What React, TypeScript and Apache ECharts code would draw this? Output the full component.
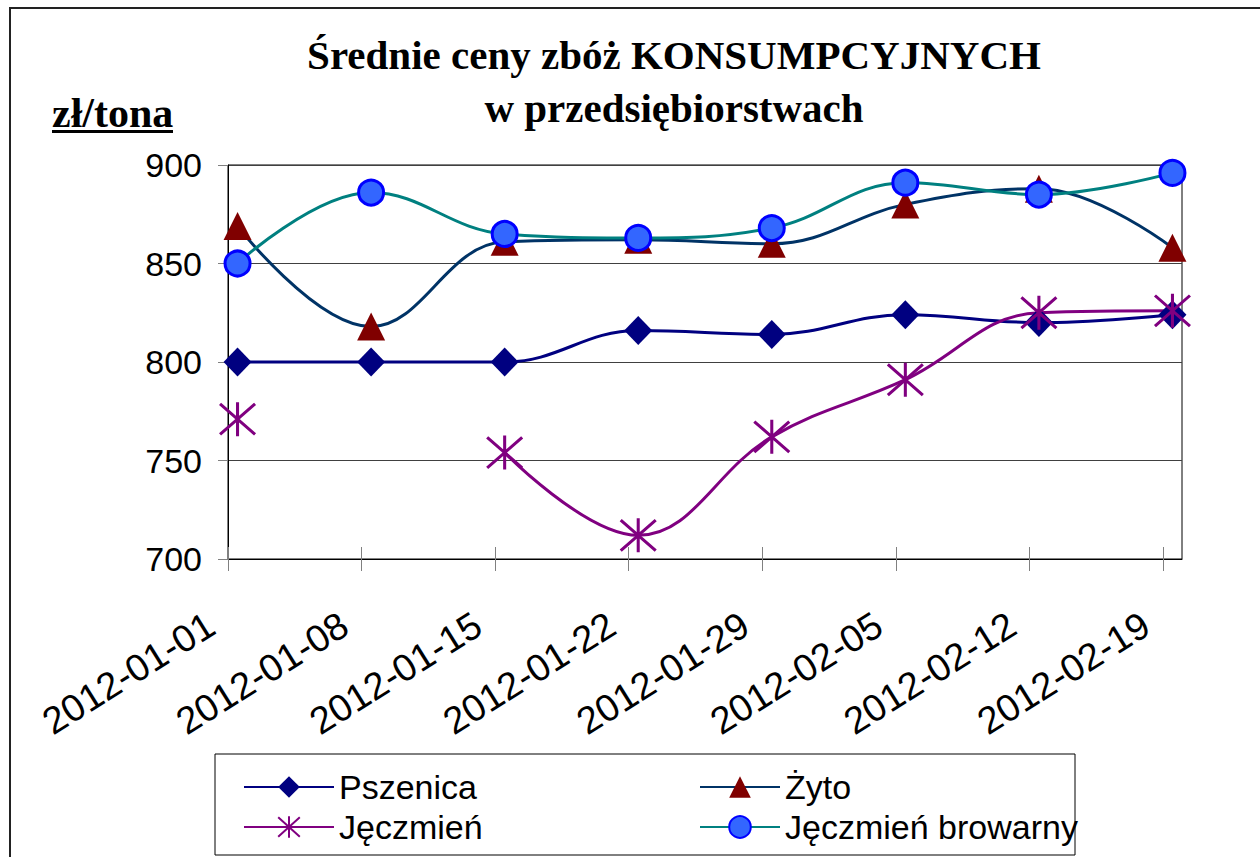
import React, { useEffect, useRef } from 'react';
import * as echarts from 'echarts';

// ---- data ----
const axisStartDate = '2012-01-01';
const axisEndDate = '2012-02-20';
const dates = ['2012-01-01', '2012-01-08', '2012-01-15', '2012-01-22', '2012-01-29', '2012-02-05', '2012-02-12', '2012-02-19'];
const tickDates = ['2012-01-01', '2012-01-08', '2012-01-15', '2012-01-22', '2012-01-29', '2012-02-05', '2012-02-12', '2012-02-19'];
const pszenica = [800, 800, 800, 816, 814, 824, 820, 824];
const zyto = [869, 818, 861, 862, 860, 880, 888, 858];
const jeczmien: (number | null)[] = [771, null, 754, 712, 762, 791, 825, 826];
const browarny = [850, 886, 865, 863, 868, 891, 885, 896];
const yTicks = [700, 750, 800, 850, 900];
const seriesNames = ['Pszenica', 'Żyto', 'Jęczmień', 'Jęczmień browarny'];
const titleText = 'Średnie ceny zbóż KONSUMPCYJNYCH\nw przedsiębiorstwach';
const unitText = 'zł/tona';

const DAY = 86400000;
const t0 = Date.parse(axisStartDate + 'T00:00:00Z');
const dayIndex = (d: string) => (Date.parse(d + 'T00:00:00Z') - t0) / DAY;
const fmtDay = (v: number) => new Date(t0 + Math.round(v) * DAY).toISOString().slice(0, 10);
// Excel date axis: each point sits in the middle of its day slot
const toPoints = (vals: (number | null)[]) =>
  dates.map((d, i) => [dayIndex(d) + 0.5, vals[i] == null ? '-' : vals[i]]);

const SANS = '"Liberation Sans", Arial, sans-serif';
const SERIF = '"Liberation Serif", "Times New Roman", serif';
const STAR = 'path://M50,0L50,100M0,5L100,95M0,95L100,5';

export default function App() {
  const ref = useRef<HTMLDivElement>(null);
  useEffect(() => {
    document.body.style.margin = '0';
    const chart = echarts.init(ref.current!, undefined, { renderer: 'svg' });
    const tickVals = tickDates.map(dayIndex);
    const xMax = dayIndex(axisEndDate);
    chart.setOption({
      animation: false,
      backgroundColor: '#fff',
      title: {
        text: titleText,
        left: 669,
        top: 23,
        textAlign: 'center',
        textStyle: { fontFamily: SERIF, fontWeight: 'bold', fontSize: 41, lineHeight: 53, color: '#000' },
      },
      grid: {
        left: 228,
        top: 165,
        right: 78,
        bottom: 298,
        show: true,
        borderColor: '#000',
        borderWidth: 1,
        backgroundColor: 'transparent',
      },
      legend: [
        {
          data: [seriesNames[0], seriesNames[2]],
          orient: 'vertical',
          left: 243,
          top: 767,
          padding: 0,
          itemGap: 0,
          itemWidth: 90,
          itemHeight: 27,
          selectedMode: false,
          textStyle: { fontFamily: SANS, fontSize: 34, color: '#000', lineHeight: 40 },
        },
        {
          data: [seriesNames[1], seriesNames[3]],
          orient: 'vertical',
          left: 699,
          top: 767,
          padding: 0,
          itemGap: 0,
          itemWidth: 80,
          itemHeight: 27,
          selectedMode: false,
          textStyle: { fontFamily: SANS, fontSize: 34, color: '#000', lineHeight: 40 },
        },
      ],
      xAxis: [
        {
          type: 'value',
          min: 0,
          max: xMax,
          position: 'bottom',
          axisLine: { show: true, lineStyle: { color: '#000', width: 1 } },
          axisTick: { show: true, customValues: tickVals, length: 12, inside: false, lineStyle: { color: '#808080', width: 1 } },
          axisLabel: {
            show: true,
            customValues: tickVals,
            rotate: 32,
            margin: 52,
            padding: [0, 20, 0, 0],
            fontFamily: SANS,
            fontSize: 38,
            color: '#000',
            formatter: (v: number) => fmtDay(v),
          },
          splitLine: { show: false },
        },
        {
          type: 'value',
          min: 0,
          max: xMax,
          position: 'bottom',
          axisLine: { show: false },
          axisTick: { show: true, customValues: tickVals, length: 12, inside: true, lineStyle: { color: '#808080', width: 1 } },
          axisLabel: { show: false },
          splitLine: { show: false },
        },
      ],
      yAxis: {
        type: 'value',
        min: yTicks[0],
        max: yTicks[yTicks.length - 1],
        interval: yTicks[1] - yTicks[0],
        axisLine: { show: true, lineStyle: { color: '#000', width: 1 } },
        axisTick: { show: true, length: 10, lineStyle: { color: '#808080' } },
        axisLabel: { fontFamily: SANS, fontSize: 34, color: '#000', margin: 26 },
        splitLine: { show: true, lineStyle: { color: '#404040', width: 1 } },
      },
      series: [
        {
          name: seriesNames[0],
          type: 'line',
          data: toPoints(pszenica),
          smooth: 0.4,
          symbol: 'diamond',
          symbolSize: [28, 29],
          lineStyle: { color: '#000080', width: 3 },
          itemStyle: { color: '#000080' },
          emphasis: { disabled: true },
        },
        {
          name: seriesNames[1],
          type: 'line',
          data: toPoints(zyto),
          smooth: 0.4,
          symbol: 'triangle',
          symbolSize: [28, 28],
          lineStyle: { color: '#003366', width: 3 },
          itemStyle: { color: '#800000' },
          emphasis: { disabled: true },
        },
        {
          name: seriesNames[2],
          type: 'line',
          data: toPoints(jeczmien),
          smooth: 0.4,
          symbol: STAR,
          symbolSize: [35, 34],
          lineStyle: { color: '#800080', width: 3 },
          itemStyle: { color: '#800080', borderColor: '#800080', borderWidth: 3 },
          emphasis: { disabled: true },
        },
        {
          name: seriesNames[3],
          type: 'line',
          data: toPoints(browarny),
          smooth: 0.4,
          symbol: 'circle',
          symbolSize: 25,
          lineStyle: { color: '#008080', width: 3 },
          itemStyle: { color: '#3366FF', borderColor: '#0000FF', borderWidth: 3 },
          emphasis: { disabled: true },
        },
      ],
      graphic: [
        {
          type: 'rect',
          shape: { x: 10, y: 8, width: 1300, height: 900 },
          style: { fill: 'none', stroke: '#222', lineWidth: 2 },
          silent: true,
        },
        {
          type: 'rect',
          shape: { x: 215, y: 754, width: 860, height: 101 },
          style: { fill: 'none', stroke: '#000', lineWidth: 1 },
          silent: true,
        },
        {
          type: 'text',
          x: 52,
          y: 113,
          style: { text: unitText, font: `bold 42px ${SERIF}`, fill: '#000', textAlign: 'left', textVerticalAlign: 'middle' },
          silent: true,
        },
        {
          type: 'line',
          shape: { x1: 52, y1: 131.5, x2: 173, y2: 131.5 },
          style: { stroke: '#000', lineWidth: 3 },
          silent: true,
        },
      ],
    });
    return () => chart.dispose();
  }, []);
  return <div ref={ref} style={{ width: 1260, height: 857 }} />;
}
